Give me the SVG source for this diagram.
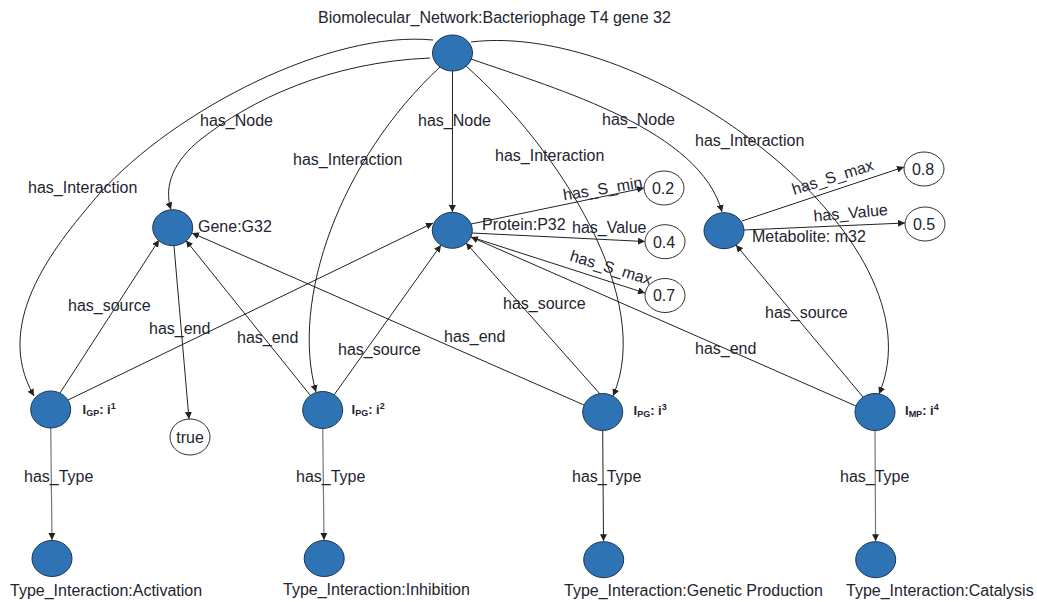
<svg xmlns="http://www.w3.org/2000/svg" width="1037" height="602" viewBox="0 0 1037 602">
<style>
text{font-family:"Liberation Sans",Arial,sans-serif;font-size:16px;fill:#1e2530}
.n{fill:#2e74b5;stroke:#1d3550;stroke-width:1}
.v{fill:#fff;stroke:#333;stroke-width:1}
.e{fill:none;stroke:#222;stroke-width:1;marker-end:url(#ah)}
.g{fill:none;stroke:#777;stroke-width:1.2;marker-end:url(#ah)}
.il{font-size:13px;font-weight:bold}
.s{font-size:9px;font-weight:bold}
.c{text-anchor:middle}
</style>
<defs>
<marker id="ah" viewBox="0 0 10 10" refX="10" refY="5" markerWidth="7" markerHeight="7" markerUnits="userSpaceOnUse" orient="auto">
<path d="M0,0 L10,5 L0,10 z" fill="#222"/>
</marker>
</defs>

<g id="connectors">
<path class="e" d="M433,40 C330,30 175,110 100,193 C60,240 -10,320 34,396"/>
<path class="e" d="M430,58 C330,62 250,100 200,140 C175,160 163,185 171,209.5"/>
<path class="e" d="M440,67 C340,160 290,300 316,392"/>
<path class="e" d="M452.5,71 L452.4,212"/>
<path class="e" d="M466,66 C560,150 655,300 613,396"/>
<path class="e" d="M471,59 C560,90 700,130 722,212"/>
<path class="e" d="M471,42 C650,20 945,240 879,394"/>
<path class="e" d="M174,246 L189,419"/>
<path class="e" d="M60,393 L159,240"/>
<path class="e" d="M310,395 L186,240.5"/>
<path class="e" d="M584,405 L192,233"/>
<path class="e" d="M68,400 L433,223"/>
<path class="e" d="M334,395 L441,245"/>
<path class="e" d="M600,394 L466,243"/>
<path class="e" d="M856,406 L471,237"/>
<path class="e" d="M863,397 L736,245"/>
<path class="e" d="M471,224 L644,188"/>
<path class="e" d="M472,233 L645,241.5"/>
<path class="e" d="M471,237 L645,293"/>
<path class="e" d="M742,221 L904,167"/>
<path class="e" d="M744,230 L905,223"/>
<path class="g" d="M50.7,427.5 L52,540"/>
<path class="g" d="M322.7,428 L324,540"/>
<path class="e" d="M602.7,430.5 L603.5,541.2"/>
<path class="g" d="M875,430.5 L875.6,541.2"/>
</g>

<g id="edge-labels">
<text x="200" y="126">has_Node</text>
<text x="28" y="193">has_Interaction</text>
<text x="293" y="165">has_Interaction</text>
<text x="418" y="126">has_Node</text>
<text x="495" y="161">has_Interaction</text>
<text x="602" y="125">has_Node</text>
<text x="695" y="146">has_Interaction</text>
<text transform="translate(564,200.5) rotate(-9.2)">has_S_min</text>
<text x="572" y="232.5">has_Value</text>
<text transform="translate(569,260.5) rotate(17)">has_S_max</text>
<text transform="translate(794,195) rotate(-17.5)">has_S_max</text>
<text transform="translate(814,221.5) rotate(-5)">has_Value</text>
<text x="68" y="311">has_source</text>
<text x="149" y="334">has_end</text>
<text x="237" y="343">has_end</text>
<text x="338" y="355">has_source</text>
<text x="444" y="342">has_end</text>
<text x="503" y="308.5">has_source</text>
<text x="695" y="354">has_end</text>
<text x="765" y="317.5">has_source</text>
<text x="24" y="481.5">has_Type</text>
<text x="296" y="481.5">has_Type</text>
<text x="572" y="481.5">has_Type</text>
<text x="840" y="481.5">has_Type</text>
</g>

<g id="network">
<ellipse class="n" cx="452.5" cy="53" rx="20" ry="18"/>
<text x="318" y="23">Biomolecular_Network:Bacteriophage T4 gene 32</text>
</g>
<g id="gene">
<ellipse class="n" cx="172.7" cy="227.7" rx="20" ry="18"/>
<text x="198" y="232">Gene:G32</text>
</g>
<g id="protein">
<ellipse class="n" cx="452.3" cy="230.3" rx="20" ry="18"/>
<text x="482" y="229.5">Protein:P32</text>
</g>
<g id="metabolite">
<ellipse class="n" cx="724" cy="230.7" rx="20" ry="18"/>
<text x="752" y="242">Metabolite: m32</text>
</g>
<g id="v02">
<ellipse class="v" cx="664" cy="188" rx="20" ry="17"/>
<text class="c" x="663" y="193.5">0.2</text>
</g>
<g id="v04">
<ellipse class="v" cx="665" cy="241.7" rx="20" ry="17"/>
<text class="c" x="664" y="247.5">0.4</text>
</g>
<g id="v07">
<ellipse class="v" cx="665" cy="295.5" rx="20" ry="17"/>
<text class="c" x="664" y="301">0.7</text>
</g>
<g id="v08">
<ellipse class="v" cx="924" cy="169" rx="20" ry="17"/>
<text class="c" x="923" y="174.5">0.8</text>
</g>
<g id="v05">
<ellipse class="v" cx="925" cy="224" rx="20" ry="17"/>
<text class="c" x="924" y="229.5">0.5</text>
</g>
<g id="true">
<ellipse class="v" cx="190" cy="437" rx="20" ry="18"/>
<text class="c" x="190" y="442.5">true</text>
</g>
<g id="i1">
<ellipse class="n" cx="50.7" cy="409.5" rx="20" ry="18.5"/>
<text class="il" x="82.5" y="413.5">I<tspan class="s" dy="2">GP</tspan><tspan dy="-2">: i</tspan><tspan class="s" dy="-5">1</tspan></text>
</g>
<g id="i2">
<ellipse class="n" cx="322.7" cy="410" rx="20" ry="18.5"/>
<text class="il" x="351.5" y="414">I<tspan class="s" dy="2">PG</tspan><tspan dy="-2">: i</tspan><tspan class="s" dy="-5">2</tspan></text>
</g>
<g id="i3">
<ellipse class="n" cx="602.7" cy="412" rx="20" ry="18.5"/>
<text class="il" x="633.5" y="415">I<tspan class="s" dy="2">PG</tspan><tspan dy="-2">: i</tspan><tspan class="s" dy="-5">3</tspan></text>
</g>
<g id="i4">
<ellipse class="n" cx="875" cy="412" rx="20" ry="18.5"/>
<text class="il" x="905" y="415">I<tspan class="s" dy="2">MP</tspan><tspan dy="-2">: i</tspan><tspan class="s" dy="-5">4</tspan></text>
</g>
<g id="activation">
<ellipse class="n" cx="52" cy="558.5" rx="20" ry="18"/>
<text x="10" y="595.5">Type_Interaction:Activation</text>
</g>
<g id="inhibition">
<ellipse class="n" cx="324.2" cy="558.5" rx="20" ry="18"/>
<text x="283" y="594.5">Type_Interaction:Inhibition</text>
</g>
<g id="genetic">
<ellipse class="n" cx="603.7" cy="559.7" rx="20" ry="18"/>
<text x="564" y="595.5">Type_Interaction:Genetic Production</text>
</g>
<g id="catalysis">
<ellipse class="n" cx="875.7" cy="559.7" rx="20" ry="18"/>
<text x="846" y="595.5">Type_Interaction:Catalysis</text>
</g>
</svg>
